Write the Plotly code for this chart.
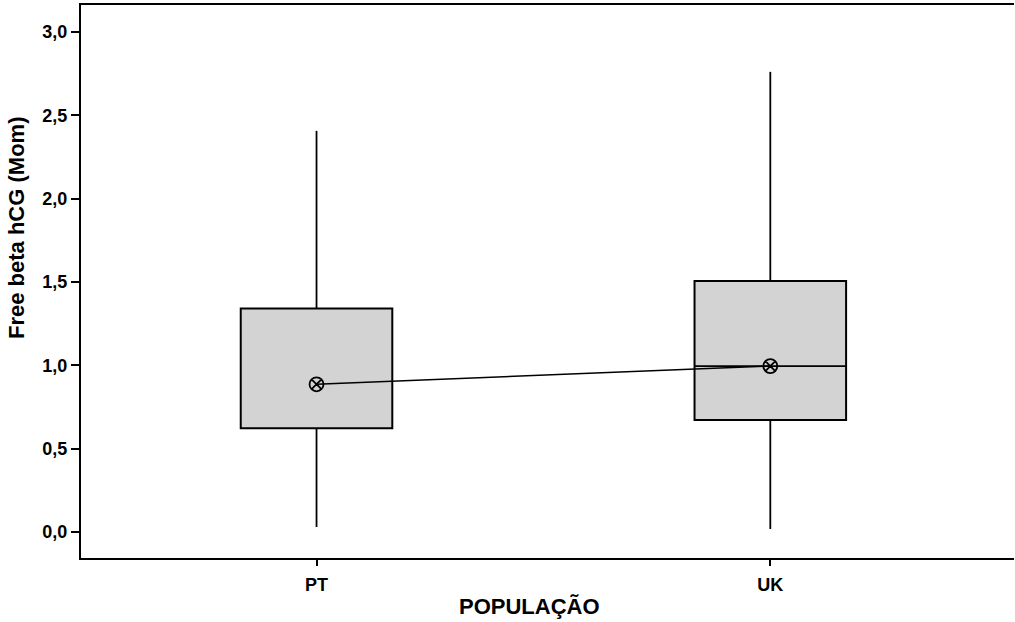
import plotly.graph_objects as go

categories = ["PT", "UK"]
q1 = [0.622, 0.672]
median = [0.886, 0.995]
q3 = [1.340, 1.506]
lower_whisker = [0.030, 0.018]
upper_whisker = [2.406, 2.760]
show_median_line = [False, True]

ytick_vals = [0.0, 0.5, 1.0, 1.5, 2.0, 2.5, 3.0]
ytick_text = ["0,0", "0,5", "1,0", "1,5", "2,0", "2,5", "3,0"]

box_width = 0.334
pos = list(range(len(categories)))

fig = go.Figure()

# boxes
fig.add_trace(go.Bar(
    x=pos, base=q1, y=[b - a for a, b in zip(q1, q3)], width=box_width,
    marker=dict(color="#d3d3d3", line=dict(color="black", width=2)),
    hoverinfo="skip", showlegend=False))

# whiskers
wx, wy = [], []
for i in pos:
    wx += [i, i, None, i, i, None]
    wy += [q3[i], upper_whisker[i], None, q1[i], lower_whisker[i], None]
fig.add_trace(go.Scatter(x=wx, y=wy, mode="lines",
                         line=dict(color="black", width=1.8),
                         hoverinfo="skip", showlegend=False))

# median lines where drawn
mx, my = [], []
for i in pos:
    if show_median_line[i]:
        mx += [i - box_width / 2, i + box_width / 2, None]
        my += [median[i], median[i], None]
fig.add_trace(go.Scatter(x=mx, y=my, mode="lines",
                         line=dict(color="black", width=1.8),
                         hoverinfo="skip", showlegend=False))

# median connect line with symbols
fig.add_trace(go.Scatter(x=pos, y=median, mode="lines+markers",
                         line=dict(color="black", width=1.5),
                         marker=dict(symbol="circle-x-open", size=14,
                                     color="black", line=dict(width=1.8)),
                         showlegend=False))

fnt = "Liberation Sans, Arial, sans-serif"
fig.update_layout(
    width=1015, height=622,
    margin=dict(l=81, r=1, t=5, b=64, pad=0, autoexpand=False),
    paper_bgcolor="white", plot_bgcolor="white",
    font=dict(family=fnt, color="black"),
    xaxis=dict(range=[-0.519, 1.537], tickvals=pos, ticktext=["<b>%s</b>" % c for c in categories],
               showline=True, linecolor="black", linewidth=2, mirror=True,
               ticks="outside", ticklen=6, tickwidth=1.5, tickcolor="black",
               showgrid=False, zeroline=False, tickfont=dict(size=18),
               ticklabelstandoff=3, automargin=False),
    yaxis=dict(range=[-0.156, 3.161], tickvals=ytick_vals,
               ticktext=["<b>%s</b>" % t for t in ytick_text],
               showline=True, linecolor="black", linewidth=2,
               ticks="outside", ticklen=8, tickwidth=1.5, tickcolor="black",
               showgrid=False, zeroline=False, tickfont=dict(size=18),
               automargin=False),
    annotations=[
        dict(text="<b>POPULAÇÃO</b>", xref="paper", yref="paper",
             x=(529 - 81) / 933, y=-(606 - 558) / 553, xanchor="center", yanchor="middle",
             showarrow=False, font=dict(size=22)),
        dict(text="<b>Free beta hCG (Mom)</b>", xref="paper", yref="paper",
             x=-(81 - 16) / 933, y=(558 - 228) / 553, xanchor="center", yanchor="middle",
             textangle=-90, showarrow=False, font=dict(size=22)),
    ],
)

fig.write_html("out.html", config={"displayModeBar": False},
               post_script="document.body.style.margin='0';document.body.style.overflow='hidden';")
